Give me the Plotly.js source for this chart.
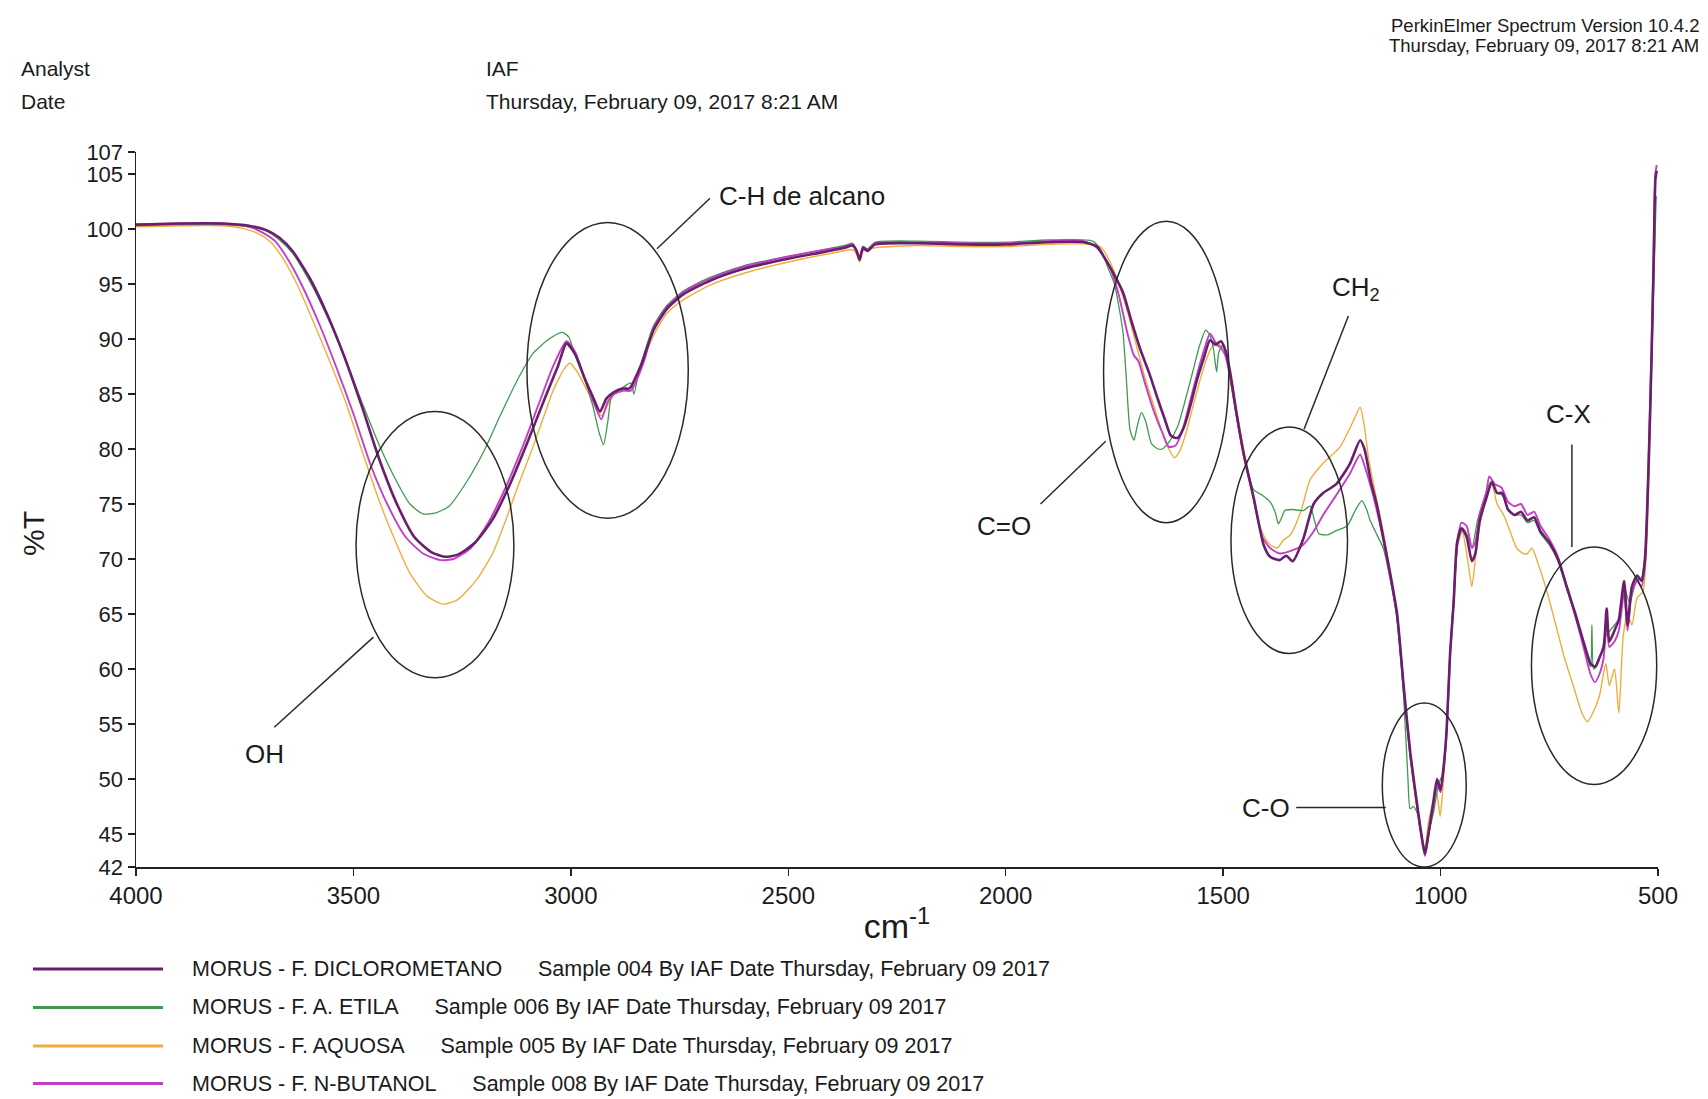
<!DOCTYPE html>
<html>
<head>
<meta charset="utf-8">
<script src="https://cdn.plot.ly/plotly-3.0.1.min.js"></script>
<style>
  html, body { margin: 0; padding: 0; background: #ffffff; overflow: hidden; }
  #chart { width: 1708px; height: 1099px; }
</style>
</head>
<body>
<div id="chart"></div>
<script>
// FTIR transmittance spectra of four Morus fractions (wavenumber in cm-1, %T)

const seriesNames = [
  'MORUS - F. DICLOROMETANO',
  'MORUS - F. A. ETILA',
  'MORUS - F. AQUOSA',
  'MORUS - F. N-BUTANOL'
];
const sampleInfo = [
  'Sample 004 By IAF Date Thursday, February 09 2017',
  'Sample 006 By IAF Date Thursday, February 09 2017',
  'Sample 005 By IAF Date Thursday, February 09 2017',
  'Sample 008 By IAF Date Thursday, February 09 2017'
];

// F. diclorometano
const wnDcm = [4000,3900,3800,3740,3700,3670,3640,3600,3560,3520,
  3480,3440,3400,3360,3320,3290,3260,3220,3180,3140,
  3100,3060,3030,3010,2990,2970,2950,2933,2918,2900,
  2880,2865,2850,2835,2810,2780,2740,2680,2600,2500,
  2420,2370,2352,2343,2336,2328,2318,2300,2200,2100,
  2000,1900,1820,1790,1770,1750,1730,1710,1690,1670,
  1650,1635,1620,1605,1590,1575,1560,1545,1530,1518,
  1505,1495,1484,1469,1453,1430,1407,1392,1370,1355,
  1340,1316,1292,1270,1240,1208,1185,1175,1160,1147,
  1132,1115,1100,1085,1070,1055,1045,1036,1028,1017,
  1008,1000,992,986,978,970,962,952,940,928,
  920,910,895,882,870,858,845,830,815,800,
  785,770,750,730,710,690,670,655,645,635,
  625,618,612,600,590,578,570,560,548,538,
  530,522,515,510,506,503];
const tDcm = [100.4,100.5,100.5,100.3,99.9,99.2,98.0,95.5,92.2,88.3,
  83.8,79.0,75.0,72.0,70.6,70.2,70.4,71.5,73.6,76.8,
  80.6,84.6,87.5,89.6,88.6,86.6,84.8,83.4,84.6,85.2,
  85.5,85.5,86.6,88.0,90.8,92.7,94.1,95.3,96.4,97.3,
  97.9,98.3,98.5,98.0,97.2,98.3,98.0,98.6,98.7,98.6,
  98.6,98.8,98.8,98.4,97.2,95.8,94.2,91.5,89.0,86.9,
  84.5,82.8,81.2,81.0,82.0,84.0,86.3,88.2,89.9,89.5,
  89.8,89.0,87.0,83.2,79.6,75.6,71.3,70.2,69.9,70.3,
  69.8,71.8,75.0,76.0,76.8,78.7,80.8,80.0,77.0,75.0,
  72.0,68.5,65.0,58.5,52.5,48.0,45.2,43.2,45.0,47.8,
  50.0,49.0,51.5,54.5,61.5,66.0,71.5,72.8,72.0,69.8,
  70.5,73.5,75.5,77.0,76.0,76.0,74.5,74.0,74.3,73.5,
  73.8,72.5,71.5,70.0,67.5,65.0,62.3,60.5,60.2,61.0,
  62.0,65.5,62.5,63.5,64.5,68.0,64.0,67.5,68.5,68.0,
  70.0,78.0,88.0,97.0,104.5,105.3];

// F. acetato de etila
const wnAe = [4000,3900,3800,3740,3700,3670,3640,3600,3560,3520,
  3480,3440,3400,3370,3340,3310,3280,3240,3200,3163,
  3120,3087,3050,3020,3005,2990,2970,2950,2935,2925,
  2915,2905,2880,2862,2855,2845,2835,2810,2780,2740,
  2680,2600,2500,2420,2370,2352,2343,2336,2328,2318,
  2300,2200,2100,2000,1900,1800,1780,1765,1750,1740,
  1730,1722,1714,1705,1698,1688,1678,1665,1650,1640,
  1625,1605,1590,1570,1555,1540,1530,1522,1515,1510,
  1500,1490,1480,1465,1450,1430,1410,1392,1380,1373,
  1365,1358,1340,1316,1300,1290,1280,1260,1239,1215,
  1195,1181,1170,1162,1150,1132,1115,1100,1085,1075,
  1070,1062,1050,1040,1035,1028,1015,1005,995,986,
  978,970,960,950,940,928,915,900,885,870,
  858,845,830,815,800,785,770,750,730,710,
  690,670,655,652,648,640,630,620,610,600,
  590,578,565,550,538,528,520,513,508,504];
const tAe = [100.3,100.4,100.4,100.2,99.8,99.0,97.8,95.2,92.0,88.3,
  84.2,80.3,77.0,75.0,74.1,74.2,74.8,77.0,79.8,83.0,
  86.5,88.7,90.0,90.6,90.2,88.5,86.5,84.0,81.5,80.4,
  82.5,85.0,85.6,86.0,85.0,86.8,88.2,91.2,93.0,94.4,
  95.6,96.7,97.5,98.1,98.5,98.7,98.1,97.4,98.4,98.2,
  98.8,98.9,98.8,98.8,99.0,98.9,98.0,96.5,95.0,93.0,
  90.5,86.0,81.7,80.8,82.0,83.3,82.5,80.5,80.0,80.0,
  80.6,82.0,84.0,87.0,89.3,90.8,90.3,89.0,87.0,88.8,
  89.5,88.0,85.5,82.0,79.2,76.3,75.8,75.2,74.2,73.2,
  73.8,74.4,74.5,74.4,74.8,73.5,72.3,72.2,72.6,73.0,
  74.5,75.3,74.5,73.5,72.5,71.0,68.0,64.5,57.5,50.0,
  47.3,47.5,46.5,44.0,43.5,45.0,47.2,49.5,50.5,54.5,
  61.5,66.5,71.5,72.8,72.3,71.0,73.5,75.5,77.0,76.0,
  75.8,74.5,74.0,74.0,73.3,73.5,72.3,71.3,69.8,67.3,
  64.8,62.0,60.2,64.0,60.0,60.3,61.5,63.0,63.5,64.0,
  64.5,67.5,66.0,68.0,68.3,71.0,80.0,90.0,98.0,103.0];

// F. aquosa
const wnAq = [4000,3900,3800,3760,3720,3690,3660,3630,3600,3560,
  3520,3480,3440,3400,3370,3330,3293,3260,3217,3180,
  3150,3120,3087,3060,3041,3015,3002,2985,2965,2945,
  2930,2915,2900,2880,2860,2840,2810,2780,2740,2680,
  2600,2500,2400,2352,2343,2336,2328,2300,2200,2100,
  2000,1900,1800,1780,1760,1740,1720,1700,1680,1660,
  1640,1625,1612,1600,1585,1570,1555,1540,1525,1510,
  1495,1484,1469,1453,1435,1420,1405,1392,1375,1362,
  1345,1320,1300,1270,1231,1200,1185,1175,1165,1150,
  1132,1115,1100,1085,1070,1055,1045,1036,1028,1020,
  1010,1001,995,988,980,970,962,950,938,928,
  920,910,895,882,870,855,840,825,810,800,
  790,775,755,735,715,695,675,662,650,635,
  620,612,600,590,580,570,560,548,535,525,
  518,512,506];
const tAq = [100.2,100.3,100.3,100.1,99.6,98.8,97.2,95.0,92.3,88.5,
  84.5,79.8,75.2,71.3,68.7,66.6,65.9,66.3,68.1,70.5,
  73.5,76.8,80.2,83.2,85.3,87.3,87.8,87.0,85.5,84.0,
  83.0,84.0,85.0,85.3,85.7,87.5,90.3,92.3,93.6,94.9,
  96.0,97.0,97.8,98.1,97.7,97.0,98.0,98.3,98.5,98.4,
  98.4,98.6,98.6,98.3,97.0,95.0,92.5,89.5,86.5,84.0,
  81.5,80.0,79.2,79.8,81.5,83.8,86.0,88.0,89.3,89.5,
  89.0,87.0,83.5,80.0,76.5,73.5,72.0,71.3,71.0,71.7,
  72.2,74.5,77.2,78.7,80.2,82.6,83.8,82.0,79.0,76.0,
  72.5,68.5,64.5,58.0,52.0,47.5,45.0,43.8,46.0,47.5,
  49.0,46.6,49.0,53.0,60.5,66.5,71.0,72.5,70.0,67.5,
  70.0,73.0,75.5,76.8,75.0,74.0,72.5,71.0,70.5,70.5,
  71.0,69.5,67.0,64.0,61.0,58.5,56.0,55.2,56.0,57.5,
  60.5,58.5,60.0,56.0,63.0,65.0,64.0,66.5,67.0,72.0,
  82.0,92.0,100.5];

// F. n-butanol
const wnNb = [4000,3900,3800,3740,3710,3680,3650,3620,3580,3540,
  3500,3460,3420,3380,3340,3300,3270,3230,3190,3150,
  3110,3070,3040,3010,2990,2970,2950,2930,2915,2900,
  2880,2862,2845,2830,2810,2780,2740,2680,2600,2500,
  2420,2370,2352,2343,2336,2328,2318,2300,2200,2100,
  2000,1900,1820,1790,1760,1740,1720,1705,1695,1680,
  1660,1640,1625,1610,1595,1575,1555,1540,1530,1515,
  1505,1495,1484,1469,1453,1430,1410,1392,1370,1340,
  1316,1292,1270,1240,1208,1185,1175,1160,1147,1132,
  1115,1100,1085,1070,1055,1045,1036,1028,1017,1008,
  1000,992,986,978,970,962,952,940,928,920,
  910,895,888,875,860,845,830,815,800,785,
  770,750,730,710,690,670,655,645,635,625,
  618,612,600,590,578,570,560,548,538,530,
  522,515,510,506,503];
const tNb = [100.4,100.5,100.5,100.2,99.7,98.9,97.2,95.0,91.5,87.5,
  83.2,78.5,74.8,72.0,70.5,69.9,70.0,71.0,73.3,76.5,
  80.3,84.5,87.6,89.8,88.8,86.6,84.5,82.7,84.3,85.0,
  85.3,85.3,86.6,88.2,91.0,92.9,94.3,95.5,96.6,97.5,
  98.1,98.4,98.6,98.1,97.4,98.4,98.1,98.7,98.8,98.7,
  98.7,98.9,98.9,98.3,96.5,94.0,90.5,88.5,88.0,86.0,
  83.5,81.5,80.2,80.3,81.5,84.5,87.5,89.5,90.5,89.5,
  89.2,88.5,86.5,83.0,79.5,75.5,72.0,71.0,70.5,70.8,
  71.3,72.5,74.0,75.8,77.8,79.5,78.5,76.5,74.5,71.8,
  68.2,64.8,58.3,52.3,47.8,45.0,43.0,44.8,47.5,49.5,
  48.8,51.3,54.3,61.3,66.0,71.3,73.3,73.0,71.0,71.5,
  74.0,76.0,77.5,76.8,76.5,75.2,74.8,75.0,74.0,74.3,
  73.0,71.8,70.2,67.5,64.8,61.8,59.5,58.8,59.5,61.0,
  64.5,62.0,62.5,63.5,67.0,63.5,67.0,68.0,67.5,69.5,
  78.5,89.0,98.0,105.0,105.8];

// Axis ticks
const xTicks = [4000, 3500, 3000, 2500, 2000, 1500, 1000, 500];
const yTicks = [42, 45, 50, 55, 60, 65, 70, 75, 80, 85, 90, 95, 100, 105, 107];

// Band assignments: label, label anchor, ellipse bounds, leader line
const bandLabels = ['OH', 'C-H de alcano', 'C=O', 'CH<sub>2</sub>', 'C-O', 'C-X'];
const bandLabelWn = [3704, 2468, 2003, 1194, 1402, 705];
const bandLabelT  = [52.3, 103.0, 73.0, 94.6, 47.4, 83.2];
const ellipseWn   = [[3494, 3131], [3101, 2730], [1775, 1487], [1482, 1214], [1134, 941], [791, 503]];
const ellipseT    = [[59.2, 83.4], [73.7, 100.6], [73.3, 100.7], [61.4, 82.0], [42.0, 56.9], [49.5, 71.1]];
const leaderWn    = [[3682, 3454], [2802, 2680], [1770, 1920], [1314, 1212], [1332, 1126], [698, 698]];
const leaderT     = [[54.7, 62.9], [98.2, 102.8], [80.7, 75.0], [81.8, 92.1], [47.4, 47.4], [80.4, 71.1]];

// Report header
const headerKeys = ['Analyst', 'Date'];
const headerVals = ['IAF', 'Thursday, February 09, 2017 8:21 AM'];
const softwareInfo = ['PerkinElmer Spectrum Version 10.4.2', 'Thursday, February 09, 2017 8:21 AM'];

// ---------- drawing ----------
const FONT = 'Liberation Sans, Arial, Helvetica, sans-serif';
const INK = '#1b1b1b';
const W = 1708, H = 1099;
const M = { l: 136, r: 50, t: 152, b: 232 };
const PW = W - M.l - M.r, PH = H - M.t - M.b;
const px = x => (x - M.l) / PW;          // page pixel -> paper x
const py = y => (H - M.b - y) / PH;      // page pixel -> paper y

const colors = ['#6a1f6e', '#3f9a50', '#f0ad3c', '#c23fc6'];
const widths = [2.6, 1.3, 1.4, 1.9];
const xs = [wnDcm, wnAe, wnAq, wnNb];
const ys = [tDcm, tAe, tAq, tNb];
const drawOrder = [2, 1, 3, 0];

const traces = drawOrder.map(i => ({
  type: 'scatter',
  mode: 'lines',
  name: seriesNames[i],
  x: xs[i],
  y: ys[i],
  line: { color: colors[i], width: widths[i], shape: 'spline', smoothing: 0.6 },
  showlegend: false,
  hoverinfo: 'skip'
}));

const shapes = [];
const annotations = [];

// band ellipses and leader lines
bandLabels.forEach((lab, i) => {
  shapes.push({
    type: 'circle', xref: 'x', yref: 'y',
    x0: ellipseWn[i][0], x1: ellipseWn[i][1], y0: ellipseT[i][0], y1: ellipseT[i][1],
    line: { color: '#2a2a2a', width: 1.5 }
  });
  shapes.push({
    type: 'line', xref: 'x', yref: 'y',
    x0: leaderWn[i][0], x1: leaderWn[i][1], y0: leaderT[i][0], y1: leaderT[i][1],
    line: { color: '#2a2a2a', width: 1.5 }
  });
  annotations.push({
    xref: 'x', yref: 'y', x: bandLabelWn[i], y: bandLabelT[i],
    text: lab, showarrow: false, xanchor: 'center', yanchor: 'middle',
    font: { family: FONT, size: 26, color: INK }
  });
});

// report header
const headerRows = [68.6, 101.3];
headerKeys.forEach((k, i) => {
  annotations.push({
    xref: 'paper', yref: 'paper', x: px(19), y: py(headerRows[i]),
    text: k, showarrow: false, xanchor: 'left', yanchor: 'middle',
    font: { family: FONT, size: 21, color: INK }
  });
  annotations.push({
    xref: 'paper', yref: 'paper', x: px(484), y: py(headerRows[i]),
    text: headerVals[i], showarrow: false, xanchor: 'left', yanchor: 'middle',
    font: { family: FONT, size: 21, color: INK }
  });
});
const swRows = [25, 45];
softwareInfo.forEach((s, i) => {
  annotations.push({
    xref: 'paper', yref: 'paper', x: px(1701), y: py(swRows[i]),
    text: s, showarrow: false, xanchor: 'right', yanchor: 'middle',
    font: { family: FONT, size: 18.5, color: INK }
  });
});

// y axis title
annotations.push({
  xref: 'paper', yref: 'paper', x: px(33), y: py(534),
  text: '%T', textangle: -90, showarrow: false, xanchor: 'center', yanchor: 'middle',
  font: { family: FONT, size: 30, color: INK }
});

// legend block below the axis
const legendRows = [969, 1007.5, 1046, 1083.5];
const gap = '\u00a0'.repeat(6);
seriesNames.forEach((nm, i) => {
  shapes.push({
    type: 'line', xref: 'paper', yref: 'paper',
    x0: px(33), x1: px(163), y0: py(legendRows[i]), y1: py(legendRows[i]),
    line: { color: colors[i], width: 3 }
  });
  annotations.push({
    xref: 'paper', yref: 'paper', x: px(190), y: py(legendRows[i]),
    text: nm + gap + sampleInfo[i], showarrow: false, xanchor: 'left', yanchor: 'middle',
    font: { family: FONT, size: 21.5, color: INK }
  });
});

const axisCommon = {
  showline: true, linecolor: '#222', linewidth: 1.5,
  ticks: 'outside', ticklen: 7, tickwidth: 1.3, tickcolor: '#222',
  showgrid: false, zeroline: false, mirror: false,
  fixedrange: true
};

const layout = {
  width: W, height: H,
  margin: M,
  paper_bgcolor: '#ffffff',
  plot_bgcolor: '#ffffff',
  showlegend: false,
  xaxis: Object.assign({}, axisCommon, {
    range: [4000, 500],
    tickmode: 'array', tickvals: xTicks, ticktext: xTicks.map(String),
    tickfont: { family: FONT, size: 24, color: INK },
    title: { text: 'cm<sup>-1</sup>', font: { family: FONT, size: 34, color: INK }, standoff: 6 }
  }),
  yaxis: Object.assign({}, axisCommon, {
    range: [42, 107],
    tickmode: 'array', tickvals: yTicks, ticktext: yTicks.map(String),
    tickfont: { family: FONT, size: 22, color: INK }
  }),
  shapes: shapes,
  annotations: annotations
};

Plotly.newPlot('chart', traces, layout, { staticPlot: true, displayModeBar: false });
</script>
</body>
</html>
